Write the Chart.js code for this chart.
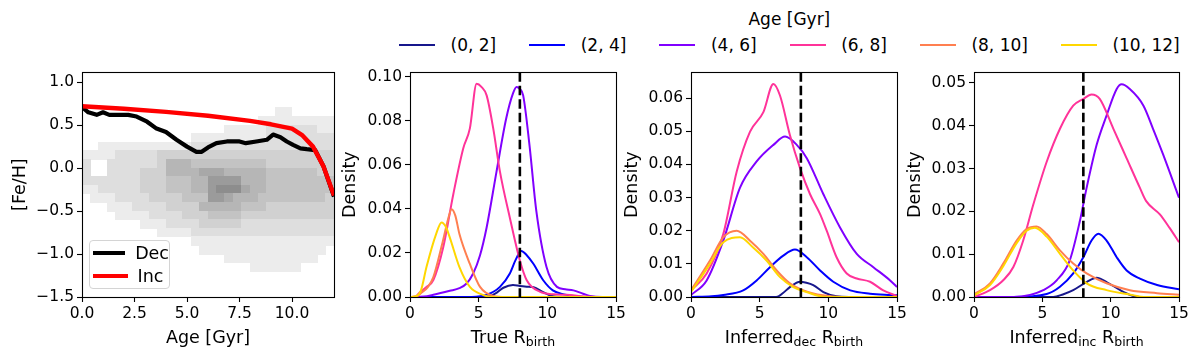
<!DOCTYPE html>
<html>
<head>
<meta charset="utf-8">
<script src="https://cdn.jsdelivr.net/npm/chart.js@4.4.1/dist/chart.umd.min.js"></script>
<style>
  html, body { margin: 0; padding: 0; background: #fff; }
  #fig { position: relative; width: 1200px; height: 359px; overflow: hidden; background: #fff;
         font-family: "DejaVu Sans", sans-serif; color: #000; }
  #fig canvas { position: absolute; top: 60px; }
  .xtitle { position: absolute; top: 327px; line-height: 20px; font-size: 17.5px; text-align: center; white-space: nowrap; }
  .xtitle sub { font-size: 12.5px; vertical-align: -3px; line-height: 0; }
  #ageLegend { position: absolute; left: 399px; top: 9px; font-size: 17px; }
  #ageLegend .ttl { text-align: center; line-height: 20px; height: 20px; }
  #ageLegend .row { display: flex; margin-top: 6px; line-height: 20px; }
  #ageLegend .item { display: flex; align-items: center; margin-right: 33px; white-space: nowrap; }
  #ageLegend .item:last-child { margin-right: 0; }
  #ageLegend .swatch { width: 36px; height: 2px; margin-right: 15.5px; }
  #fehLegend { position: absolute; left: 89px; top: 240px; width: 81px; height: 49px; box-sizing: border-box;
               border: 1px solid #d4d4d4; border-radius: 4px; background: rgba(255,255,255,0.8); font-size: 17.5px; }
  #fehLegend .item { display: flex; align-items: center; height: 23.3px; padding-left: 2.5px; }
  #fehLegend .swatch { width: 35px; height: 4px; margin-right: 10px; }
</style>
</head>
<body>
<div id="fig">
  <canvas id="c1" width="346" height="299" style="left:2px"></canvas>
  <canvas id="c2" width="300" height="299" style="left:330px"></canvas>
  <canvas id="c3" width="300" height="299" style="left:611px"></canvas>
  <canvas id="c4" width="299" height="299" style="left:894px"></canvas>
  <div class="xtitle" style="left:82px;width:252px">Age [Gyr]</div>
  <div class="xtitle" style="left:410px;width:206px">True R<sub>birth</sub></div>
  <div class="xtitle" style="left:691px;width:206px">Inferred<sub>dec</sub> R<sub>birth</sub></div>
  <div class="xtitle" style="left:974px;width:205px">Inferred<sub>inc</sub> R<sub>birth</sub></div>
  <div id="ageLegend"><div class="ttl">Age [Gyr]</div><div class="row"></div></div>
  <div id="fehLegend"></div>
</div>
<script>
Chart.defaults.font.family = '"DejaVu Sans", sans-serif';
Chart.defaults.color = '#000';
Chart.defaults.animation = false;

// ---- data ----
const ageBins = ['(0, 2]', '(2, 4]', '(4, 6]', '(6, 8]', '(8, 10]', '(10, 12]'];
const binColors = ['#17178c', '#0000ff', '#8000ff', '#ff3399', '#ff7f50', '#ffd700'];

// age-metallicity relations, panel 1
const decAge = [0, 0.3, 0.7, 1.0, 1.3, 1.7, 2.2, 2.6, 3.1, 3.55, 4.0, 4.5, 5.0, 5.45, 5.7, 6.0, 6.4, 6.9, 7.5, 7.8, 8.3, 8.8, 9.1, 9.45, 9.75, 10.05, 10.4, 10.7, 11.1, 11.5, 12.0];
const decFeh = [0.71, 0.65, 0.62, 0.65, 0.62, 0.62, 0.62, 0.60, 0.54, 0.46, 0.42, 0.33, 0.25, 0.19, 0.19, 0.24, 0.29, 0.31, 0.31, 0.29, 0.31, 0.33, 0.39, 0.36, 0.31, 0.27, 0.23, 0.22, 0.21, 0.02, -0.33];
const incAge = [0, 2, 4, 6, 8, 9, 10, 10.5, 11, 11.5, 12];
const incFeh = [0.72, 0.69, 0.655, 0.61, 0.55, 0.51, 0.46, 0.38, 0.25, 0.02, -0.32];

// 2D histogram of stars (age bins of 0.4 Gyr from 0, [Fe/H] bins of 0.1 from 0.7 down), 0 = empty, 8 = densest
const heatAgeStart = 0, heatAgeStep = 0.4, heatFehTop = 0.7, heatFehStep = 0.1;
const heatCounts = [
  '000000000000000000000001100000',
  '000000000000000000000111111111',
  '000000000000000001111122222211',
  '000000000000011111111122222222',
  '001111111111122222222222222222',
  '111122222333333333333333333333',
  '200222222355544444444433333333',
  '200222233355556665555544444433',
  '222222233344455777755544444444',
  '112222233344455788865544444444',
  '011122223333444776555444444443',
  '000111222233335555544433333333',
  '000011112222333444433333333333',
  '000000011122223333322222222222',
  '000000000111122222222222222222',
  '000000000000011111111111111111',
  '000000000000001111111111111110',
  '000000000000000001111111111100',
  '000000000000000000001111110000'
];

// birth radius densities [R, density], one list per age bin
const densTrue = [
  [[0,0],[5.5,0],[6.2,0.0015],[6.8,0.0042],[7.5,0.0054],[8.0,0.005],[8.5,0.0047],[9.0,0.0044],[9.7,0.0022],[10.4,0.0003],[11,0],[15,0]],
  [[0,0],[4.5,0],[5.6,0.001],[6.55,0.0046],[7.27,0.0107],[7.7,0.017],[8.1,0.0209],[8.5,0.019],[8.97,0.0152],[9.7,0.0076],[10.4,0.003],[11.2,0.0012],[12.1,0.0004],[13,0],[15,0]],
  [[0,0],[1,0.0002],[1.7,0.001],[2.9,0.0028],[3.6,0.004],[4.1,0.006],[4.6,0.0107],[5.1,0.019],[5.58,0.0316],[6.3,0.057],[7.0,0.081],[7.5,0.0925],[7.76,0.0954],[8.0,0.0945],[8.24,0.0916],[8.7,0.069],[9.2,0.039],[9.94,0.0136],[10.7,0.0046],[11.3,0.0035],[11.9,0.003],[12.6,0.0015],[13.1,0.0005],[14,0],[15,0]],
  [[0,0],[0.4,0.0002],[0.7,0.002],[1.2,0.0045],[1.7,0.0077],[2.42,0.0226],[3.15,0.0466],[3.88,0.0676],[4.36,0.0766],[4.85,0.0969],[5.2,0.0955],[5.58,0.0916],[6.06,0.0766],[6.55,0.057],[7.27,0.036],[8.0,0.0166],[8.5,0.0076],[9.45,0.0024],[10.5,0.0012],[11.4,0.001],[12.5,0.0003],[13.5,0],[15,0]],
  [[0,0],[0.5,0.0003],[0.85,0.002],[1.3,0.0045],[1.7,0.009],[2.4,0.0256],[2.8,0.036],[3.03,0.0399],[3.3,0.037],[3.6,0.0286],[4.36,0.015],[5.1,0.0046],[6.06,0.0005],[7,0],[15,0]],
  [[0,0],[0.5,0.0005],[0.8,0.003],[1.2,0.0136],[1.9,0.0286],[2.3,0.0339],[2.6,0.032],[2.9,0.027],[3.6,0.0136],[4.36,0.0046],[5.3,0.001],[6,0],[15,0]]
];
const densDec = [
  [[0,0],[6.2,0],[6.7,0.0012],[7.2,0.003],[7.94,0.0046],[8.4,0.0043],[8.9,0.0036],[9.64,0.0015],[10.6,0.0002],[11.5,0],[15,0]],
  [[0,0],[1.5,0.0002],[2.35,0.0006],[3.8,0.002],[4.78,0.005],[5.75,0.009],[6.72,0.0125],[7.57,0.0143],[8.43,0.012],[9.4,0.008],[10.36,0.0046],[11.6,0.002],[13.04,0.001],[14.5,0.0006],[15,0.0005]],
  [[0,0.0006],[1.14,0.005],[2.35,0.017],[3.57,0.033],[4.78,0.0409],[6.0,0.0459],[6.85,0.0484],[7.7,0.0459],[8.43,0.0419],[9.64,0.031],[10.85,0.021],[12.07,0.013],[13.28,0.009],[14.5,0.005],[15,0.003]],
  [[0,0.002],[1.14,0.0071],[2.35,0.019],[3.33,0.0379],[4.3,0.0499],[5.27,0.0558],[6.0,0.0643],[6.48,0.0608],[7.2,0.0489],[7.94,0.0389],[8.67,0.031],[9.4,0.025],[9.88,0.02],[10.6,0.012],[11.34,0.0071],[12.07,0.0056],[13.04,0.0046],[14.0,0.002],[15,0.0003]],
  [[0,0.002],[1.38,0.011],[2.35,0.018],[3.33,0.02],[4.3,0.017],[5.27,0.013],[6.24,0.008],[7.2,0.0041],[8.2,0.002],[9.6,0.0005],[11,0],[15,0]],
  [[0,0.0015],[1.38,0.01],[2.35,0.0165],[3.57,0.018],[4.5,0.015],[5.5,0.011],[6.48,0.006],[7.45,0.003],[8.4,0.0015],[9.8,0],[15,0]]
];
const densInc = [
  [[0,0],[5.8,0],[6.5,0.0006],[7.26,0.0016],[8.24,0.0035],[8.97,0.0045],[9.7,0.0035],[10.7,0.0016],[11.5,0.0004],[12.1,0],[15,0]],
  [[0,0],[2.9,0],[5.32,0.0007],[6.29,0.0024],[7.26,0.0055],[8.0,0.0093],[8.6,0.0132],[9.1,0.0148],[9.7,0.0132],[10.44,0.0093],[11.17,0.0062],[12.14,0.0043],[13.4,0.0028],[15,0.0018]],
  [[0,0],[2.9,0],[4.1,0.0005],[5.07,0.0016],[6.05,0.0039],[7.0,0.0085],[7.75,0.0178],[8.24,0.0255],[8.97,0.0355],[9.7,0.0424],[10.44,0.0486],[10.8,0.0497],[11.4,0.0486],[12.4,0.0447],[13.1,0.0393],[13.85,0.0332],[15,0.0232]],
  [[0,0],[1.17,0.0016],[2.14,0.0039],[2.88,0.007],[3.6,0.0132],[4.34,0.0216],[5.32,0.0316],[6.29,0.0393],[7.26,0.0447],[8.0,0.0463],[8.6,0.0473],[9.2,0.0463],[10.2,0.0393],[11.17,0.0324],[12.14,0.0255],[12.6,0.0224],[13.6,0.0193],[14.3,0.0162],[15,0.0128]],
  [[0,0.0006],[1.17,0.0032],[2.14,0.0078],[3.12,0.0132],[3.85,0.0159],[4.58,0.0165],[5.32,0.0147],[6.29,0.0109],[7.26,0.0078],[8.24,0.0055],[9.7,0.0032],[11.4,0.0016],[13.4,0.0009],[15,0.0005]],
  [[0,0.0004],[1.17,0.0028],[2.14,0.0072],[3.12,0.0126],[3.85,0.0155],[4.46,0.0162],[5.32,0.0141],[6.29,0.0101],[7.26,0.0062],[8.24,0.0032],[9.7,0.0016],[11.2,0.0007],[12.6,0],[15,0]]
];
const rSun = 8;

// axes
const ageTicks = [0, 2.5, 5, 7.5, 10];
const fehTicks = [-1.5, -1.0, -0.5, 0.0, 0.5, 1.0];
const rTicks = [0, 5, 10, 15];
const densTicksTrue = [0, 0.02, 0.04, 0.06, 0.08, 0.10];
const densTicksDec = [0, 0.01, 0.02, 0.03, 0.04, 0.05, 0.06];
const densTicksInc = [0, 0.01, 0.02, 0.03, 0.04, 0.05];

// ---- drawing ----
const Y_AXIS_W = 80, X_AXIS_H = 62;
const minus = s => s.replace('-', '\u2212');

function axis(min, max, vals, fmt) {
  return {
    type: 'linear', min, max,
    afterBuildTicks: s => { s.ticks = vals.map(v => ({ value: v })); },
    grid: { display: true, drawOnChartArea: false, drawTicks: true, tickLength: 5, tickWidth: 1.1, tickColor: '#000' },
    border: { display: false },
    ticks: { color: '#000', font: { size: 15.5 }, padding: 3, autoSkip: false, maxRotation: 0, minRotation: 0, callback: v => fmt(v) }
  };
}

const framePlugin = {
  id: 'frame',
  afterDatasetsDraw(chart) {
    const { ctx, chartArea: a } = chart;
    ctx.save();
    ctx.strokeStyle = '#000';
    ctx.lineWidth = 1.1;
    ctx.strokeRect(Math.round(a.left) + 0.5, Math.round(a.top) + 0.5, Math.round(a.right - a.left), Math.round(a.bottom - a.top));
    ctx.restore();
  }
};

const sunLinePlugin = {
  id: 'sunLine',
  afterDatasetsDraw(chart) {
    const { ctx, chartArea: a, scales } = chart;
    const x = scales.x.getPixelForValue(rSun);
    ctx.save();
    ctx.strokeStyle = '#000';
    ctx.lineWidth = 2.6;
    ctx.setLineDash([9.5, 4]);
    ctx.beginPath();
    ctx.moveTo(x, a.top);
    ctx.lineTo(x, a.bottom);
    ctx.stroke();
    ctx.restore();
  }
};

const heatPlugin = {
  id: 'heat',
  beforeDatasetsDraw(chart) {
    const { ctx, chartArea: a, scales: { x, y } } = chart;
    ctx.save();
    ctx.beginPath();
    ctx.rect(a.left, a.top, a.right - a.left, a.bottom - a.top);
    ctx.clip();
    heatCounts.forEach((row, r) => {
      const yTop = y.getPixelForValue(heatFehTop - r * heatFehStep);
      const yBot = y.getPixelForValue(heatFehTop - (r + 1) * heatFehStep);
      for (let c = 0; c < row.length; c++) {
        const v = +row[c];
        if (!v) continue;
        const g = Math.round(249 - 13.5 * v);
        const x0 = x.getPixelForValue(heatAgeStart + c * heatAgeStep);
        const x1 = x.getPixelForValue(heatAgeStart + (c + 1) * heatAgeStep);
        ctx.fillStyle = 'rgb(' + g + ',' + g + ',' + g + ')';
        ctx.fillRect(Math.floor(x0), Math.floor(yTop), Math.ceil(x1) - Math.floor(x0), Math.ceil(yBot) - Math.floor(yTop));
      }
    });
    ctx.restore();
  }
};

function baseOptions(xs, ys, yTitle, yTitlePad) {
  return {
    responsive: false,
    animation: false,
    layout: { padding: { top: 10, right: 14, left: 0, bottom: 0 } },
    plugins: { legend: { display: false }, tooltip: { enabled: false } },
    elements: { point: { radius: 0 } },
    scales: {
      x: { ...xs, afterFit: s => { s.height = X_AXIS_H; } },
      y: { ...ys, afterFit: s => { s.width = Y_AXIS_W; },
           title: { display: true, text: yTitle, color: '#000', font: { size: 17.5 }, padding: { top: yTitlePad, bottom: 0 } } }
    }
  };
}

// panel 1: age-metallicity
new Chart(document.getElementById('c1'), {
  type: 'line',
  data: {
    datasets: [
      { label: 'Dec', data: decAge.map((a, i) => ({ x: a, y: decFeh[i] })), borderColor: '#000', borderWidth: 4.2, borderJoinStyle: 'round', pointRadius: 0, order: 0 },
      { label: 'Inc', data: incAge.map((a, i) => ({ x: a, y: incFeh[i] })), borderColor: '#ff0000', borderWidth: 4.4, borderJoinStyle: 'round', pointRadius: 0, order: -1 }
    ]
  },
  options: baseOptions(
    axis(0, 12, ageTicks, v => v.toFixed(1)),
    axis(-1.5, 1.115, fehTicks, v => minus(v.toFixed(1))),
    '[Fe/H]', 7.5),
  plugins: [heatPlugin, framePlugin]
});

function densityChart(id, series, yMax, yTicks, pad) {
  new Chart(document.getElementById(id), {
    type: 'line',
    data: {
      datasets: series.map((s, i) => ({
        label: ageBins[i],
        data: s.map(([x, y]) => ({ x, y })),
        borderColor: binColors[i],
        borderWidth: 2,
        cubicInterpolationMode: 'monotone',
        pointRadius: 0,
        fill: false,
        order: -i
      }))
    },
    options: baseOptions(
      axis(0, 15, rTicks, v => String(v)),
      axis(0, yMax, yTicks, v => v.toFixed(2)),
      'Density', pad),
    plugins: [sunLinePlugin, framePlugin]
  });
}

densityChart('c2', densTrue, 0.1021, densTicksTrue, 9.5);
densityChart('c3', densDec, 0.0678, densTicksDec, 10.5);
densityChart('c4', densInc, 0.0525, densTicksInc, 10.5);

// legends
const row = document.querySelector('#ageLegend .row');
ageBins.forEach((label, i) => {
  const it = document.createElement('div');
  it.className = 'item';
  it.innerHTML = '<span class="swatch" style="background:' + binColors[i] + '"></span><span>' + label + '</span>';
  row.appendChild(it);
});
const fehLegend = document.getElementById('fehLegend');
[['Dec', '#000'], ['Inc', '#ff0000']].forEach(([label, color]) => {
  const it = document.createElement('div');
  it.className = 'item';
  it.innerHTML = '<span class="swatch" style="background:' + color + '"></span><span>' + label + '</span>';
  fehLegend.appendChild(it);
});
</script>
</body>
</html>
